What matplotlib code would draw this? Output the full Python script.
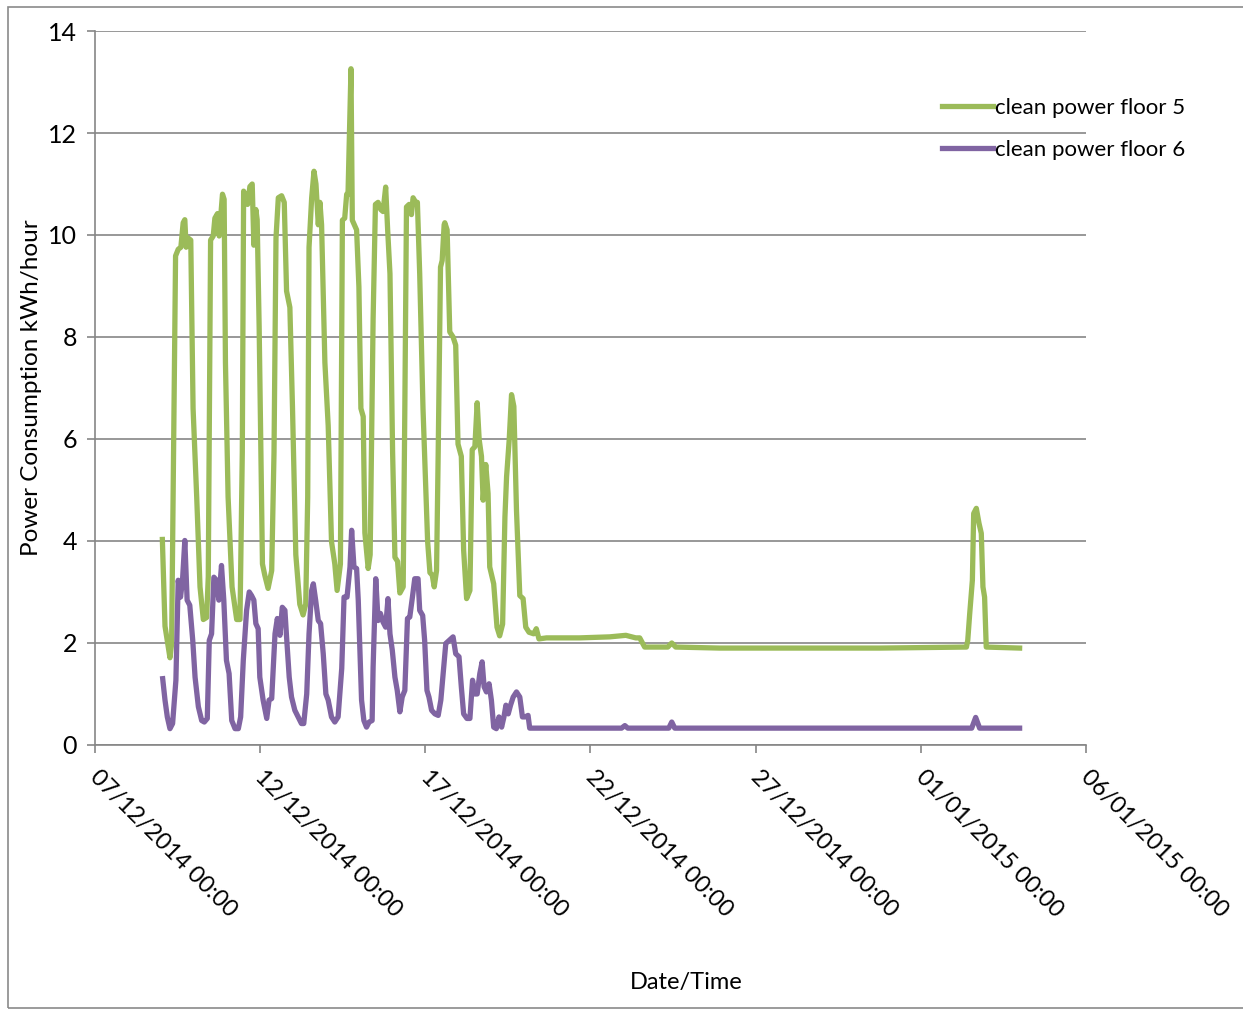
# Clean power consumption, floors 5 and 6, Dec 2014 - Jan 2015

import pandas as pd
import matplotlib
matplotlib.use("Agg")
import matplotlib.pyplot as plt
import matplotlib.dates as mdates
from matplotlib.patches import Rectangle
from matplotlib.transforms import ScaledTranslation

START = "2014-12-07"

# days after 07/12/2014 00:00 and kWh/hour
floor5_days = [
    2.04, 2.12, 2.27, 2.32, 2.44, 2.52, 2.60, 2.67, 2.72, 2.76, 2.82, 2.90,
    2.97, 3.08, 3.18, 3.28, 3.38, 3.43, 3.50, 3.58, 3.63, 3.71, 3.76, 3.86,
    3.91, 3.95, 4.03, 4.15, 4.29, 4.39, 4.46, 4.50, 4.56, 4.62, 4.69, 4.76,
    4.81, 4.87, 4.91, 4.97, 5.07, 5.14, 5.24, 5.35, 5.42, 5.48, 5.55, 5.65,
    5.73, 5.80, 5.90, 5.98, 6.08, 6.20, 6.30, 6.38, 6.44, 6.48, 6.56, 6.63,
    6.69, 6.76, 6.81, 6.86, 6.96, 7.06, 7.16, 7.26, 7.33, 7.43, 7.49, 7.56,
    7.62, 7.66, 7.75, 7.79, 7.92, 7.99, 8.05, 8.12, 8.17, 8.27, 8.33, 8.42,
    8.49, 8.57, 8.65, 8.72, 8.80, 8.86, 8.93, 9.01, 9.08, 9.16, 9.23, 9.33,
    9.38, 9.43, 9.51, 9.58, 9.63, 9.71, 9.76, 9.83, 9.93, 10.07, 10.14,
    10.21, 10.27, 10.34, 10.39, 10.46, 10.51, 10.57, 10.59, 10.66, 10.74,
    10.84, 10.92, 10.99, 11.09, 11.16, 11.25, 11.35, 11.42, 11.50, 11.57,
    11.63, 11.70, 11.75, 11.83, 11.90, 11.95, 12.07, 12.17, 12.25, 12.34,
    12.41, 12.46, 12.54, 12.61, 12.68, 12.76, 12.86, 12.96, 13.04, 13.14,
    13.28, 13.36, 13.44, 13.67, 14.67, 15.58, 16.07, 16.37, 16.49, 16.64,
    17.34, 17.46, 17.58, 18.91, 21.33, 23.75, 26.38, 26.42, 26.48, 26.56,
    26.60, 26.68, 26.76, 26.83, 26.88, 26.93, 26.98, 27.99,
]
floor5_kwh = [
    4.03, 2.33, 1.71, 1.98, 9.59, 9.72, 9.76, 10.24, 10.30, 9.76, 9.94, 9.90,
    6.60, 4.86, 3.10, 2.46, 2.50, 3.30, 9.90, 9.98, 10.33, 10.42, 9.98, 10.80,
    10.70, 7.50, 4.86, 3.10, 2.46, 2.46, 5.74, 10.86, 10.70, 10.60, 10.95,
    11.00, 9.80, 10.50, 10.30, 8.20, 3.55, 3.33, 3.07, 3.42, 5.74, 9.94,
    10.73, 10.77, 10.64, 8.90, 8.58, 6.60, 3.73, 2.76, 2.55, 2.76, 4.86,
    9.76, 10.73, 11.25, 11.00, 10.20, 10.64, 10.20, 7.50, 6.26, 3.99, 3.55,
    3.03, 3.55, 10.29, 10.33, 10.80, 10.80, 13.26, 10.29, 10.10, 8.98, 6.60,
    6.44, 4.16, 3.46, 3.73, 8.36, 10.60, 10.64, 10.50, 10.46, 10.94, 10.10,
    9.24, 5.74, 3.68, 3.60, 2.98, 3.10, 6.60, 10.55, 10.60, 10.40, 10.73,
    10.64, 10.64, 9.24, 6.60, 3.99, 3.38, 3.33, 3.10, 3.42, 5.74, 9.37, 9.50,
    10.20, 10.24, 10.10, 8.10, 8.00, 7.84, 5.90, 5.66, 3.82, 2.87, 3.03, 5.79,
    5.85, 6.71, 5.99, 5.66, 4.80, 5.50, 4.93, 3.49, 3.16, 2.31, 2.14, 2.37,
    4.47, 5.26, 5.99, 6.87, 6.64, 4.60, 2.93, 2.87, 2.31, 2.21, 2.18, 2.28,
    2.08, 2.10, 2.10, 2.12, 2.15, 2.10, 2.10, 1.92, 1.92, 2.00, 1.92, 1.90,
    1.90, 1.90, 1.92, 2.05, 2.58, 3.23, 4.54, 4.64, 4.35, 4.15, 3.10, 2.90,
    1.92, 1.90,
]

floor6_days = [
    2.05, 2.12, 2.19, 2.27, 2.35, 2.45, 2.52, 2.59, 2.65, 2.72, 2.79, 2.87,
    2.96, 3.03, 3.13, 3.23, 3.31, 3.40, 3.46, 3.53, 3.60, 3.68, 3.75, 3.83,
    3.90, 3.98, 4.06, 4.14, 4.24, 4.34, 4.41, 4.49, 4.59, 4.67, 4.74, 4.81,
    4.87, 4.94, 4.99, 5.09, 5.20, 5.27, 5.35, 5.45, 5.52, 5.60, 5.67, 5.75,
    5.80, 5.88, 5.95, 6.05, 6.15, 6.25, 6.32, 6.41, 6.48, 6.56, 6.61, 6.68,
    6.76, 6.83, 6.91, 6.99, 7.06, 7.16, 7.26, 7.36, 7.43, 7.47, 7.54, 7.63,
    7.72, 7.77, 7.84, 7.92, 7.97, 8.02, 8.07, 8.14, 8.22, 8.30, 8.39, 8.42,
    8.50, 8.57, 8.64, 8.72, 8.80, 8.87, 8.93, 9.00, 9.08, 9.15, 9.23, 9.30,
    9.38, 9.46, 9.53, 9.61, 9.68, 9.78, 9.83, 9.92, 9.98, 10.05, 10.11,
    10.19, 10.29, 10.39, 10.47, 10.54, 10.62, 10.72, 10.84, 10.92, 11.02,
    11.09, 11.16, 11.26, 11.35, 11.43, 11.50, 11.57, 11.65, 11.72, 11.78,
    11.85, 11.93, 12.00, 12.07, 12.15, 12.23, 12.31, 12.38, 12.44, 12.51,
    12.58, 12.66, 12.76, 12.86, 12.94, 13.02, 13.11, 13.16, 15.94, 16.04,
    16.13, 17.37, 17.46, 17.55, 26.54, 26.66, 26.78, 27.99,
]
floor6_kwh = [
    1.30, 0.88, 0.55, 0.32, 0.42, 1.27, 3.23, 2.90, 3.23, 4.01, 2.84, 2.74,
    2.05, 1.33, 0.75, 0.48, 0.45, 0.52, 2.05, 2.18, 3.29, 3.23, 2.84, 3.52,
    2.84, 1.66, 1.40, 0.48, 0.32, 0.32, 0.55, 1.66, 2.64, 3.00, 2.93, 2.84,
    2.38, 2.28, 1.33, 0.88, 0.52, 0.88, 0.91, 2.18, 2.48, 2.15, 2.70, 2.64,
    2.12, 1.33, 0.94, 0.68, 0.55, 0.42, 0.42, 1.00, 2.18, 3.03, 3.16, 2.84,
    2.44, 2.38, 1.79, 1.00, 0.88, 0.55, 0.45, 0.55, 1.14, 1.50, 2.90, 2.90,
    3.49, 4.21, 3.49, 3.46, 2.84, 1.86, 0.88, 0.48, 0.35, 0.45, 0.48, 1.53,
    3.26, 2.44, 2.58, 2.41, 2.31, 2.87, 2.18, 1.86, 1.33, 1.07, 0.65, 0.94,
    1.07, 2.48, 2.51, 2.90, 3.26, 3.26, 2.64, 2.54, 2.05, 1.07, 0.94, 0.68,
    0.61, 0.58, 0.88, 1.40, 1.99, 2.05, 2.12, 1.79, 1.73, 1.14, 0.61, 0.52,
    0.52, 1.27, 1.00, 1.00, 1.40, 1.63, 1.14, 1.04, 1.20, 0.88, 0.35, 0.32,
    0.55, 0.35, 0.55, 0.78, 0.61, 0.78, 0.94, 1.04, 0.94, 0.55, 0.55, 0.58,
    0.33, 0.33, 0.38, 0.33, 0.33, 0.45, 0.33, 0.33, 0.54, 0.33, 0.33,
]

series_labels = ["clean power floor 5", "clean power floor 6"]
series_colors = ["#9BBB59", "#8064A2"]

y_ticks = [0, 2, 4, 6, 8, 10, 12, 14]


def to_dates(days):
    return pd.Timestamp(START) + pd.to_timedelta(days, unit="D")


def main():
    plt.rcParams["font.family"] = ["Lato", "DejaVu Sans"]

    fig = plt.figure(figsize=(12.43, 10.10), dpi=100)
    ax = fig.add_axes([0.0764, 0.2624, 0.7973, 0.7069])

    # thin frame round the whole chart area
    fig.patches.append(Rectangle(
        (8 / 1243, 2 / 1010), 1.2, 1 - 9 / 1010,
        transform=fig.transFigure, fill=False, ec="#8a8a8a", lw=1.2
    ))

    ax.plot(to_dates(floor5_days), floor5_kwh, color=series_colors[0],
            lw=3.8, label=series_labels[0], solid_joinstyle="round")
    ax.plot(to_dates(floor6_days), floor6_kwh, color=series_colors[1],
            lw=3.8, label=series_labels[1], solid_joinstyle="round")

    ax.set_ylim(0, 14)
    ax.set_yticks(y_ticks)
    ax.set_xlim(pd.Timestamp("2014-12-07"), pd.Timestamp("2015-01-06"))
    ax.set_xticks(pd.date_range("2014-12-07", periods=7, freq="5D"))
    ax.xaxis.set_major_formatter(mdates.DateFormatter("%d/%m/%Y %H:%M"))

    ax.grid(axis="y", color="#868686", lw=1.2)
    ax.set_axisbelow(True)
    for side in ("top", "right"):
        ax.spines[side].set_visible(False)
    for side in ("left", "bottom"):
        ax.spines[side].set_color("#868686")
        ax.spines[side].set_linewidth(1.2)

    ax.tick_params(axis="y", length=6, width=1.2, color="#868686",
                   labelsize=18, pad=7)
    ax.tick_params(axis="x", length=6, width=1.2, color="#868686",
                   labelsize=17, pad=8)
    shift = ScaledTranslation(6 / 100, -2 / 100, fig.dpi_scale_trans)
    for lab in ax.get_xticklabels():
        lab.set_rotation(-45)
        lab.set_ha("left")
        lab.set_va("top")
        lab.set_rotation_mode("anchor")
        lab.set_transform(lab.get_transform() + shift)

    ax.set_ylabel("Power Consumption kWh/hour", fontsize=17.5, labelpad=4)
    fig.text(686 / 1243, 1 - 982 / 1010, "Date/Time", fontsize=17,
             ha="center", va="center")

    fig.legend(loc="upper left", bbox_to_anchor=(922 / 1243, 1 - 78 / 1010),
               frameon=False, fontsize=16, handlelength=2.3,
               handletextpad=0.1, labelspacing=1.0)

    fig.savefig("out.png", dpi=100)


if __name__ == "__main__":
    main()
